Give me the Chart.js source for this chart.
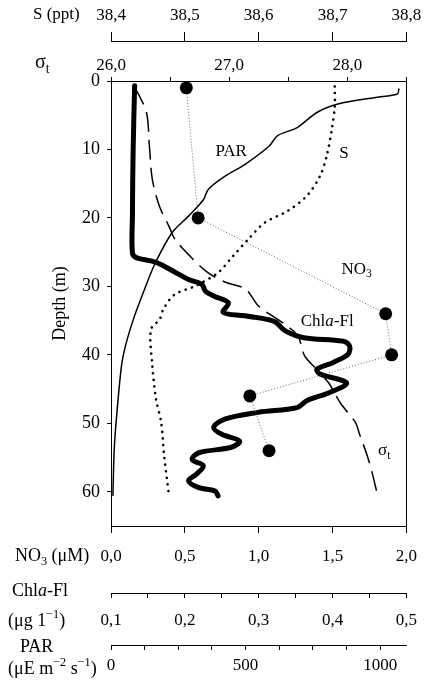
<!DOCTYPE html>
<html>
<head>
<meta charset="utf-8">
<script src="https://cdn.jsdelivr.net/npm/chart.js@4"></script>
<style>
  html, body { margin: 0; padding: 0; background: #fff; }
</style>
</head>
<body>
<canvas id="profile" width="430" height="689"></canvas>
<script>
// depth profiles (m)
const parDepth = [1.1, 1.9, 2.4, 3.3, 4.6, 6.8, 8.0, 9.5, 12.2, 13.9, 15.8, 17.3, 19.7, 22.1, 26.8, 30.9, 34.6, 38.5, 41.6, 48.9, 53.8, 60.6];
const parValue = [1070, 1064, 984, 850, 765, 692, 618, 588, 497, 424, 362, 344, 289, 228, 162, 120, 85, 55, 39, 21, 12, 7];

const salDepth = [0.8, 3.7, 7.1, 11.0, 13.9, 16.8, 19.0, 20.7, 23.1, 25.6, 28.0, 29.9, 31.2, 33.3, 34.8, 36.3, 41.6, 46.5, 49.9, 54.8, 60.1];
const salValue = [38.703, 38.703, 38.699, 38.692, 38.683, 38.665, 38.639, 38.608, 38.586, 38.565, 38.545, 38.515, 38.486, 38.471, 38.466, 38.454, 38.456, 38.461, 38.468, 38.472, 38.478];

const sigDepth = [0.8, 4.6, 9.5, 14.4, 18.3, 21.2, 23.1, 25.6, 28.0, 29.4, 30.4, 32.9, 35.3, 37.2, 40.2, 42.1, 44.3, 47.0, 49.9, 51.4, 54.8, 57.2, 60.8];
const sigValue = [26.20, 26.30, 26.325, 26.35, 26.41, 26.49, 26.54, 26.67, 26.82, 26.97, 27.14, 27.25, 27.45, 27.58, 27.64, 27.74, 27.85, 27.94, 28.07, 28.10, 28.17, 28.21, 28.26];

const chlDepth = [0.7, 10, 19.7, 25.1, 25.8, 26.5, 28.0, 29.0, 29.7, 30.7, 31.4, 32.4, 33.8, 34.3, 35.1, 36.5, 37.5, 38.0, 38.7, 39.9, 41.1, 42.1, 42.8, 44.1, 45.5, 46.7, 47.7, 48.4, 49.4, 50.6, 51.6, 52.6, 53.5, 54.3, 55.3, 56.2, 57.4, 58.4, 59.4, 59.9, 60.6];
const chlValue = [0.132, 0.130, 0.129, 0.129, 0.134, 0.161, 0.188, 0.205, 0.223, 0.228, 0.239, 0.259, 0.252, 0.281, 0.321, 0.336, 0.361, 0.414, 0.423, 0.421, 0.401, 0.379, 0.383, 0.419, 0.396, 0.365, 0.352, 0.299, 0.254, 0.239, 0.250, 0.274, 0.263, 0.219, 0.210, 0.225, 0.216, 0.205, 0.219, 0.241, 0.245];

const no3Depth = [1, 20, 34, 40, 46, 54];
const no3Value = [0.51, 0.59, 1.86, 1.90, 0.94, 1.07];

const FAMILY = "'Liberation Serif', 'Times New Roman', serif";
const INK = '#000';

const comma = (v, d) => Number(v).toFixed(d).replace('.', ',');
const pairs = (xs, ds) => xs.map((v, i) => ({x: v, y: ds[i]}));

// text pieces: [text, kind] kind = '' | 'sub' | 'sup' | 'it'
function runs(ctx, x, y, parts, size) {
    let cx = x;
    for (const [t, k] of parts) {
        const s = (k === 'sub' || k === 'sup') ? size * 0.68 : size;
        ctx.font = (k === 'it' ? 'italic ' : '') + s + 'px ' + FAMILY;
        const dy = k === 'sub' ? size * 0.3 : (k === 'sup' ? -size * 0.33 : 0);
        ctx.fillText(t, cx, y + dy);
        cx += ctx.measureText(t).width;
    }
}

// labels inside the plot, placed in axis units
const plotLabels = [
    {axis: 'xPAR', x: 388, depth: 10.3, parts: [['PAR', '']]},
    {axis: 'xS', x: 38.709, depth: 10.6, parts: [['S', '']]},
    {axis: 'xNO3', x: 1.56, depth: 27.5, parts: [['NO', ''], ['3', 'sub']]},
    {axis: 'xChl', x: 0.357, depth: 35.2, parts: [['Chl', ''], ['a', 'it'], ['-Fl', '']]},
    {axis: 'xSig', x: 28.26, depth: 54.0, parts: [['σ', ''], ['t', 'sub']]},
];

const textPlugin = {
    id: 'texts',
    afterDraw(chart) {
        const ctx = chart.ctx;
        const s = chart.scales;
        ctx.save();
        ctx.fillStyle = INK;
        ctx.textBaseline = 'middle';
        ctx.textAlign = 'left';

        // axis names sitting left of each horizontal axis
        runs(ctx, 33, 15, [['S (ppt)', '']], 17);
        runs(ctx, 35, 63, [['σ', ''], ['t', 'sub']], 20);
        runs(ctx, 15, 556, [['NO', ''], ['3', 'sub'], [' (μM)', '']], 18);
        runs(ctx, 12, 591, [['Chl', ''], ['a', 'it'], ['-Fl', '']], 18);
        runs(ctx, 8, 621, [['(μg 1', ''], ['−1', 'sup'], [')', '']], 18);
        runs(ctx, 20, 647, [['PAR', '']], 18);
        runs(ctx, 8, 669, [['(μE m', ''], ['−2', 'sup'], [' s', ''], ['−1', 'sup'], [')', '']], 18);

        for (const l of plotLabels) {
            runs(ctx, s[l.axis].getPixelForValue(l.x), s.y.getPixelForValue(l.depth), l.parts, 17);
        }
        ctx.restore();
    }
};

const tickFont = {family: FAMILY, size: 17};
const hAxis = (extra) => Object.assign({
    type: 'linear',
    ticks: {font: tickFont, color: INK},
    grid: {display: true, drawOnChartArea: false, drawTicks: true, color: INK, lineWidth: 1},
    border: {display: true, color: INK, width: 1},
}, extra);

new Chart(document.getElementById('profile'), {
    type: 'scatter',
    plugins: [textPlugin],
    data: {
        datasets: [
            {
                label: 'NO3',
                data: pairs(no3Value, no3Depth),
                xAxisID: 'xNO3', yAxisID: 'y',
                showLine: true,
                borderColor: '#666', borderWidth: 1, borderDash: [1, 2],
                pointRadius: 6.5, pointBackgroundColor: '#000', pointBorderWidth: 0,
                order: 0,
            },
            {
                label: 'Chla-Fl',
                data: pairs(chlValue, chlDepth),
                xAxisID: 'xChl', yAxisID: 'y',
                showLine: true, tension: 0.35,
                borderColor: '#000', borderWidth: 5, borderCapStyle: 'round', borderJoinStyle: 'round',
                pointRadius: 0,
                order: 1,
            },
            {
                label: 'PAR',
                data: pairs(parValue, parDepth),
                xAxisID: 'xPAR', yAxisID: 'y',
                showLine: true, tension: 0.3,
                borderColor: '#000', borderWidth: 1.5,
                pointRadius: 0,
                order: 2,
            },
            {
                label: 'S',
                data: pairs(salValue, salDepth),
                xAxisID: 'xS', yAxisID: 'y',
                showLine: true, tension: 0.3,
                borderColor: '#000', borderWidth: 2.6, borderDash: [0.1, 6.5], borderCapStyle: 'round',
                pointRadius: 0,
                order: 3,
            },
            {
                label: 'sigma-t',
                data: pairs(sigValue, sigDepth),
                xAxisID: 'xSig', yAxisID: 'y',
                showLine: true, tension: 0.3,
                borderColor: '#000', borderWidth: 1.5, borderDash: [20, 8],
                pointRadius: 0,
                order: 4,
            },
        ]
    },
    options: {
        responsive: false,
        animation: false,
        devicePixelRatio: 1,
        layout: {padding: {top: 0, right: 19, bottom: 0, left: 0}},
        plugins: {legend: {display: false}, tooltip: {enabled: false}},
        scales: {
            y: {
                type: 'linear', position: 'left', reverse: true, min: 0, max: 65,
                ticks: {stepSize: 10, includeBounds: false, font: {family: FAMILY, size: 18}, color: INK, padding: 7},
                grid: {display: true, drawOnChartArea: false, drawTicks: true, tickLength: 4, color: INK},
                border: {display: true, color: INK, width: 1},
                title: {display: true, text: 'Depth (m)', color: INK, font: {family: FAMILY, size: 18}, padding: {top: 49, bottom: 0}},
                afterFit: (sc) => { sc.width = 111; },
            },
            yR: {
                type: 'linear', position: 'right', reverse: true, min: 0, max: 65,
                ticks: {display: false},
                grid: {display: false, drawTicks: false},
                border: {display: true, color: INK, width: 1},
                afterFit: (sc) => { sc.width = 0; },
            },
            xS: hAxis({
                position: 'top', weight: 2, min: 38.4, max: 38.8,
                ticks: {stepSize: 0.1, font: tickFont, color: INK, padding: 6, maxRotation: 0,
                    callback: (v) => comma(v, 1)},
                grid: {display: true, drawOnChartArea: false, drawTicks: true, tickLength: 9, color: INK},
                afterFit: (sc) => { sc.height = 41; },
            }),
            xSig: hAxis({
                position: 'top', weight: 1, min: 26, max: 28.5,
                ticks: {stepSize: 0.5, font: tickFont, color: INK, padding: 1, maxRotation: 0, autoSkip: false,
                    callback: (v) => Number.isInteger(v) ? comma(v, 1) : ''},
                grid: {display: true, drawOnChartArea: false, drawTicks: true, tickLength: 4, color: INK},
                afterFit: (sc) => { sc.height = 40; },
            }),
            xNO3: hAxis({
                position: 'bottom', weight: 1, min: 0, max: 2,
                ticks: {stepSize: 0.5, font: tickFont, color: INK, padding: 13, maxRotation: 0,
                    callback: (v) => comma(v, 1)},
                grid: {display: true, drawOnChartArea: false, drawTicks: true, tickLength: 7, color: INK},
                afterFit: (sc) => { sc.height = 67; },
            }),
            xChl: hAxis({
                position: 'bottom', weight: 2, min: 0.1, max: 0.5,
                ticks: {stepSize: 0.05, font: tickFont, color: INK, padding: 12, maxRotation: 0, autoSkip: false,
                    callback: (v) => Math.abs(v * 10 - Math.round(v * 10)) < 1e-6 ? comma(v, 1) : ''},
                grid: {display: true, drawOnChartArea: false, drawTicks: true, tickLength: 5, color: INK},
                afterFit: (sc) => { sc.height = 52; },
            }),
            xPAR: hAxis({
                position: 'bottom', weight: 3, min: 0, max: 1097.5,
                ticks: {stepSize: 125, includeBounds: false, font: tickFont, color: INK, padding: 5, maxRotation: 0, autoSkip: false,
                    callback: (v) => v % 500 === 0 ? String(v) : ''},
                grid: {display: true, drawOnChartArea: false, drawTicks: true, tickLength: 5, color: INK},
                afterFit: (sc) => { sc.height = 44; },
            }),
        }
    }
});
</script>
</body>
</html>
